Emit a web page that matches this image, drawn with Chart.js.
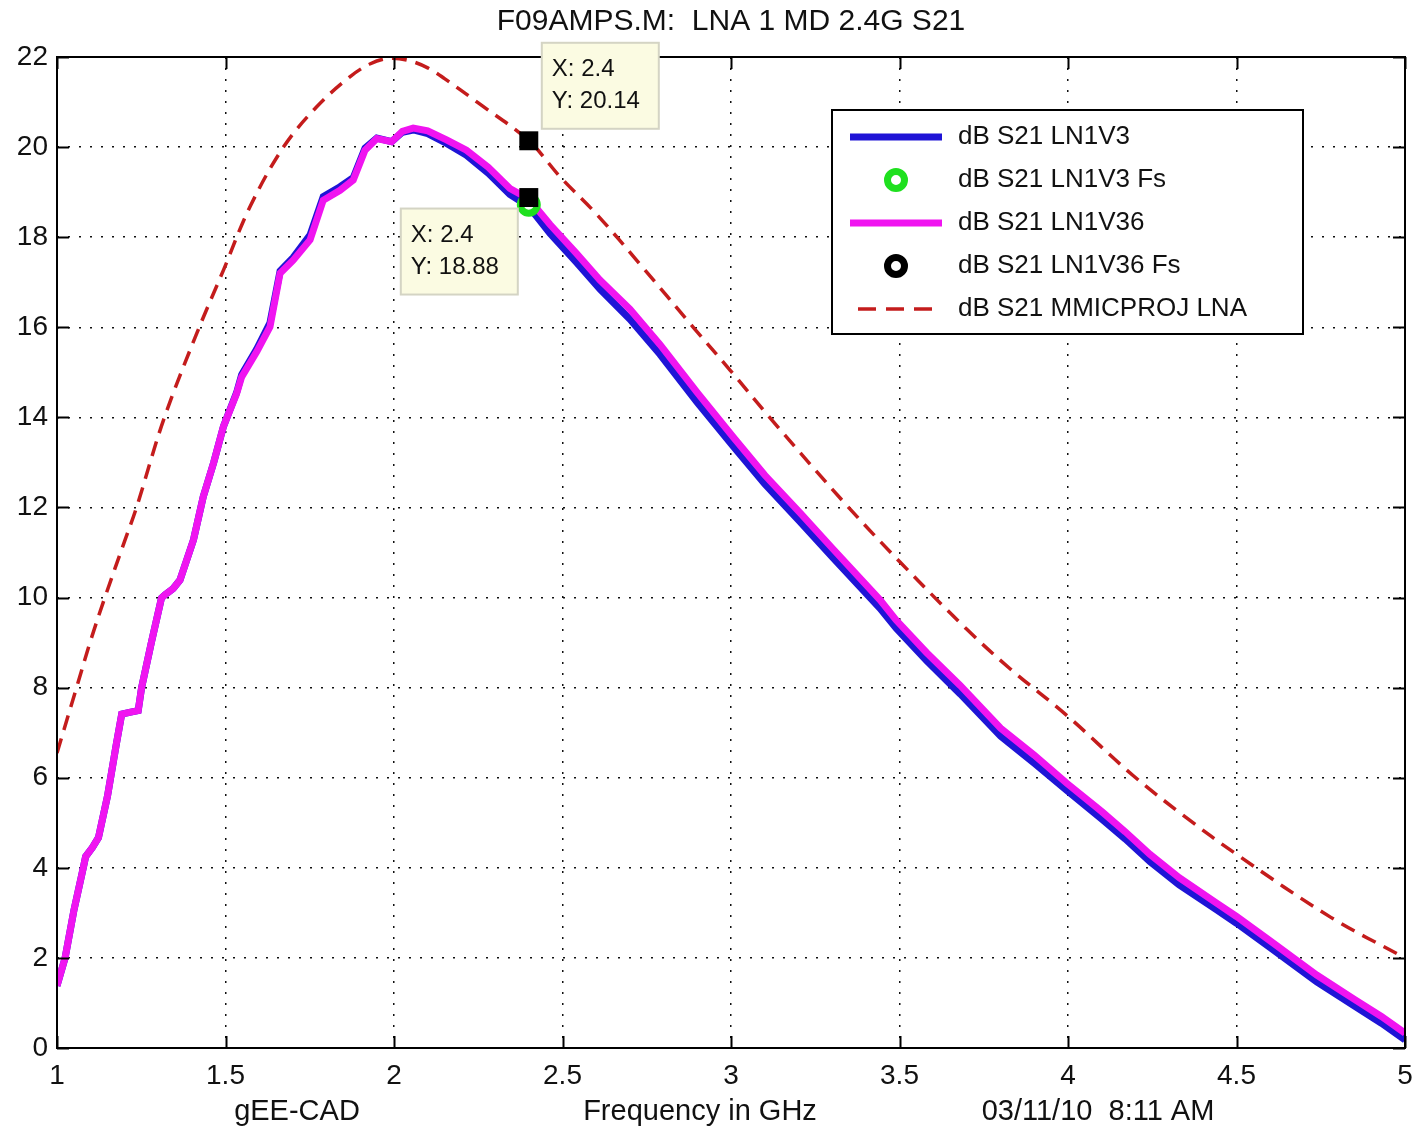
<!DOCTYPE html>
<html><head><meta charset="utf-8">
<script src="https://cdn.jsdelivr.net/npm/chart.js@4/dist/chart.umd.min.js"></script>
<style>html,body{margin:0;padding:0;background:#fff;overflow:hidden}#wrap{width:1414px;height:1131px}</style>
</head><body><div id="wrap"><canvas id="c" width="1414" height="1131"></canvas></div>
<script>
const chartTitle = 'F09AMPS.M:  LNA 1 MD 2.4G S21';
const footerLabels = ['gEE-CAD', 'Frequency in GHz', '03/11/10  8:11 AM'];
const xTickValues = [1, 1.5, 2, 2.5, 3, 3.5, 4, 4.5, 5];
const yTickValues = [0, 2, 4, 6, 8, 10, 12, 14, 16, 18, 20, 22];

const freqMeas = [1.000,1.024,1.050,1.078,1.085,1.105,1.123,1.150,1.175,1.192,1.215,1.241,1.251,1.280,1.310,1.320,1.345,1.365,1.405,1.434,1.465,1.494,1.533,1.548,1.593,1.632,1.662,1.701,1.751,1.790,1.840,1.879,1.914,1.949,1.993,2.025,2.057,2.100,2.156,2.215,2.280,2.344,2.400,2.463,2.540,2.611,2.700,2.789,2.900,3.007,3.100,3.205,3.300,3.442,3.490,3.580,3.680,3.800,3.900,3.996,4.100,4.170,4.243,4.330,4.440,4.500,4.600,4.738,4.850,4.930,5.000];
const dbV3 = [1.38,2.00,3.05,4.00,4.25,4.45,4.67,5.60,6.70,7.41,7.45,7.49,8.00,9.00,9.99,10.06,10.20,10.39,11.28,12.24,13.00,13.80,14.55,14.95,15.52,16.10,17.25,17.55,18.05,18.90,19.12,19.32,19.98,20.20,20.12,20.33,20.38,20.30,20.08,19.82,19.42,18.95,18.68,18.08,17.45,16.85,16.18,15.40,14.33,13.35,12.52,11.68,10.90,9.76,9.32,8.60,7.86,6.92,6.32,5.72,5.08,4.64,4.14,3.62,3.07,2.77,2.23,1.47,0.93,0.55,0.18];
const dbV36 = [1.38,2.00,3.05,4.00,4.25,4.45,4.67,5.60,6.70,7.41,7.45,7.49,8.00,9.00,9.99,10.06,10.20,10.39,11.28,12.24,13.00,13.80,14.53,14.90,15.46,16.01,17.20,17.49,17.94,18.82,19.04,19.27,19.93,20.19,20.12,20.35,20.42,20.36,20.16,19.93,19.55,19.08,18.85,18.28,17.65,17.05,16.40,15.62,14.55,13.56,12.72,11.88,11.10,9.95,9.50,8.78,8.05,7.10,6.50,5.88,5.25,4.80,4.30,3.78,3.22,2.92,2.38,1.62,1.08,0.70,0.33];

const freqProj = [1.000,1.058,1.100,1.142,1.202,1.236,1.316,1.415,1.494,1.573,1.672,1.770,1.869,1.930,1.985,2.040,2.100,2.150,2.250,2.400,2.493,2.600,2.730,2.888,2.997,3.126,3.343,3.500,3.699,3.828,4.000,4.193,4.350,4.500,4.780,5.000];
const dbProj = [6.55,8.00,9.05,10.00,11.28,12.00,13.94,15.87,17.27,18.68,20.00,20.89,21.56,21.85,21.97,21.93,21.76,21.52,20.98,20.14,19.34,18.52,17.40,16.00,15.05,13.90,12.05,10.80,9.30,8.42,7.36,6.05,5.12,4.30,2.90,2.00];

const fsFreq = [2.4];
const fsV3 = [18.72];
const fsV36 = [18.88];

const tipFreq = [2.4, 2.4];
const tipDb = [20.14, 18.88];
const tipText = [['X: 2.4', 'Y: 20.14'], ['X: 2.4', 'Y: 18.88']];

const legendLabels = ['dB S21 LN1V3', 'dB S21 LN1V3 Fs', 'dB S21 LN1V36', 'dB S21 LN1V36 Fs', 'dB S21 MMICPROJ LNA'];

const FONT = "'Liberation Sans', Arial, Helvetica, sans-serif";
const pts = (xs, ys) => xs.map((x, i) => ({x: x, y: ys[i]}));

const COL_BLUE = '#1f14d6';
const COL_MAG = '#f014f0';
const COL_GREEN = '#1fe01f';
const COL_RED = '#c41c1c';

const datasets = [
  {label: legendLabels[0], data: pts(freqMeas, dbV3), showLine: true, borderColor: COL_BLUE, borderWidth: 7, pointRadius: 0, tension: 0, order: 6, legendKind: 'line', legendRow: 0},
  {label: legendLabels[2], data: pts(freqMeas, dbV36), showLine: true, borderColor: COL_MAG, borderWidth: 7, pointRadius: 0, tension: 0, order: 5, legendKind: 'line', legendRow: 2},
  {label: legendLabels[1], data: pts(fsFreq, fsV3), showLine: false, pointRadius: 8.5, pointBorderWidth: 7, pointBorderColor: COL_GREEN, pointBackgroundColor: '#ffffff', borderColor: COL_GREEN, backgroundColor: '#fff', order: 4, legendKind: 'marker', legendRow: 1},
  {label: legendLabels[3], data: pts(fsFreq, fsV36), showLine: false, pointRadius: 6, pointBorderWidth: 5, pointBorderColor: '#000', pointBackgroundColor: '#ffffff', borderColor: '#000', backgroundColor: '#fff', order: 3, legendKind: 'marker', legendRow: 3},
  {label: legendLabels[4], data: pts(freqProj, dbProj), showLine: true, borderColor: COL_RED, borderWidth: 3.5, borderDash: [15, 9], pointRadius: 0, tension: 0.35, order: 2, legendKind: 'dash', legendRow: 4},
  {label: 'datatips', data: pts(tipFreq, tipDb), showLine: false, pointStyle: 'rect', pointRadius: 13.4, pointBorderWidth: 0, pointBackgroundColor: '#000', borderColor: '#000', backgroundColor: '#000', order: 1, isTips: true}
];

const frame = {
  id: 'frame',
  afterDatasetsDraw(chart) {
    const {ctx, chartArea: a, scales: {x, y}} = chart;
    ctx.save();
    ctx.strokeStyle = '#000';
    ctx.lineWidth = 2;
    ctx.beginPath();
    x.ticks.forEach(t => {
      const p = Math.round(x.getPixelForValue(t.value)) + 0.5;
      ctx.moveTo(p, a.bottom); ctx.lineTo(p, a.bottom - 12);
      ctx.moveTo(p, a.top); ctx.lineTo(p, a.top + 12);
    });
    y.ticks.forEach(t => {
      const p = Math.round(y.getPixelForValue(t.value)) + 0.5;
      ctx.moveTo(a.left, p); ctx.lineTo(a.left + 12, p);
      ctx.moveTo(a.right, p); ctx.lineTo(a.right - 12, p);
    });
    ctx.stroke();
    ctx.strokeRect(a.left, a.top, a.right - a.left, a.bottom - a.top);
    ctx.restore();
  }
};

const overlay = {
  id: 'overlay',
  afterDraw(chart) {
    const ctx = chart.ctx;
    ctx.save();
    chart.data.datasets.forEach((d, di) => {
      if (!d.isTips) return;
      const meta = chart.getDatasetMeta(di);
      meta.data.forEach((el, j) => {
        let bx, by;
        const bw = 117, bh = 86;
        if (j === 0) { bx = el.x + 13; by = el.y - 98; } else { bx = el.x - 128; by = el.y + 11; }
        ctx.fillStyle = '#fbfbe2';
        ctx.fillRect(bx, by, bw, bh);
        ctx.strokeStyle = '#d4d4c4';
        ctx.lineWidth = 2;
        ctx.strokeRect(bx, by, bw, bh);
        ctx.fillStyle = '#111';
        ctx.font = '24px ' + FONT;
        ctx.textAlign = 'left';
        ctx.textBaseline = 'middle';
        ctx.fillText(tipText[j][0], bx + 10, by + 27);
        ctx.fillText(tipText[j][1], bx + 10, by + 59);
      });
    });
    const L = {left: 832, top: 110, right: 1303, bottom: 334};
    ctx.fillStyle = '#fff';
    ctx.fillRect(L.left, L.top, L.right - L.left, L.bottom - L.top);
    ctx.strokeStyle = '#000';
    ctx.lineWidth = 2;
    ctx.strokeRect(L.left, L.top, L.right - L.left, L.bottom - L.top);
    const rows = chart.data.datasets.filter(d => d.legendRow !== undefined).sort((a, b) => a.legendRow - b.legendRow);
    rows.forEach(d => {
      const cy = 137 + d.legendRow * 43;
      ctx.save();
      if (d.legendKind === 'line') {
        ctx.strokeStyle = d.borderColor; ctx.lineWidth = d.borderWidth; ctx.lineCap = 'butt';
        ctx.beginPath(); ctx.moveTo(850, cy); ctx.lineTo(942, cy); ctx.stroke();
      } else if (d.legendKind === 'dash') {
        ctx.strokeStyle = d.borderColor; ctx.lineWidth = d.borderWidth; ctx.setLineDash([18, 10]);
        ctx.beginPath(); ctx.moveTo(858, cy); ctx.lineTo(942, cy); ctx.stroke();
      } else {
        ctx.fillStyle = '#fff'; ctx.strokeStyle = d.pointBorderColor; ctx.lineWidth = 7;
        ctx.beginPath(); ctx.arc(896, cy, 8.5, 0, Math.PI * 2); ctx.fill(); ctx.stroke();
      }
      ctx.restore();
      ctx.fillStyle = '#111';
      ctx.font = '26px ' + FONT;
      ctx.textAlign = 'left';
      ctx.textBaseline = 'middle';
      ctx.fillText(d.label, 958, cy);
    });
    ctx.fillStyle = '#111';
    ctx.font = '29px ' + FONT;
    ctx.textAlign = 'center';
    ctx.textBaseline = 'middle';
    const fx = [297, 700, 1098];
    footerLabels.forEach((t, i) => ctx.fillText(t, fx[i], 1112));
    ctx.restore();
  }
};

new Chart(document.getElementById('c'), {
  type: 'scatter',
  data: {datasets: datasets},
  options: {
    responsive: false,
    animation: false,
    devicePixelRatio: 1,
    layout: {autoPadding: false, padding: {left: 0, right: 9, top: 0, bottom: 0}},
    plugins: {
      legend: {display: false},
      tooltip: {enabled: false},
      title: {display: true, fullSize: false, text: chartTitle, color: '#111', font: {family: FONT, size: 30, weight: 'normal'}, padding: {top: 4, bottom: 17}}
    },
    scales: {
      x: {
        type: 'linear', min: 1, max: 5,
        afterBuildTicks: s => { s.ticks = xTickValues.map(v => ({value: v})); },
        afterFit: s => { s.height = 83; },
        ticks: {color: '#111', font: {family: FONT, size: 28, lineHeight: 2.0}, padding: 0, maxRotation: 0, callback: v => String(v)},
        grid: {color: '#111', lineWidth: 1.5, drawTicks: false},
        border: {display: false, dash: [2, 9]}
      },
      y: {
        type: 'linear', min: 0, max: 22,
        afterBuildTicks: s => { s.ticks = yTickValues.map(v => ({value: v})); },
        afterFit: s => { s.width = 57; },
        ticks: {color: '#111', font: {family: FONT, size: 28}, padding: 9, callback: v => String(v)},
        grid: {color: '#111', lineWidth: 1.5, drawTicks: false},
        border: {display: false, dash: [2, 9]}
      }
    }
  },
  plugins: [frame, overlay]
});
</script>
</body></html>
